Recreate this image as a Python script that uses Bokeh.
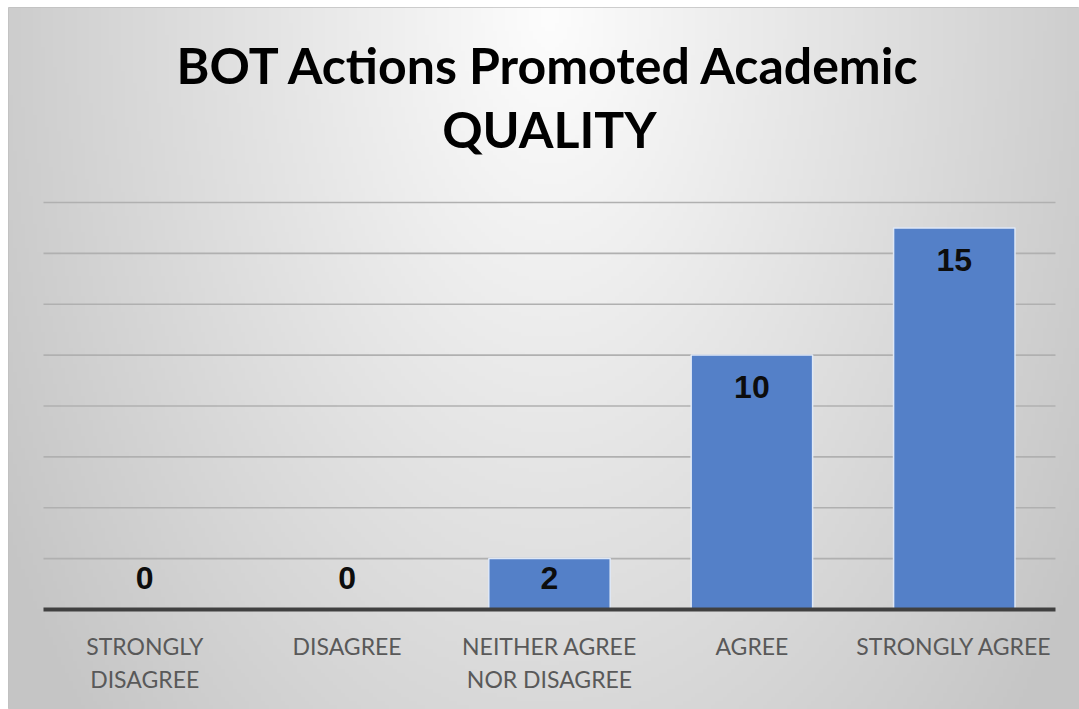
import numpy as np
from bokeh.plotting import figure
from bokeh.models import Range1d, ColumnDataSource, Label
from bokeh.core.properties import value
from bokeh.embed import file_html
from bokeh.resources import INLINE

# ---- data ----
categories = ["STRONGLY\nDISAGREE", "DISAGREE", "NEITHER AGREE\nNOR DISAGREE", "AGREE", "STRONGLY AGREE"]
counts = [0, 0, 2, 10, 15]
grid_ticks = [2, 4, 6, 8, 10, 12, 14, 16]
title_lines = ["BOT Actions Promoted Academic", "QUALITY"]

W, H = 1079, 709
FW, FH = 1071, 702
idx = list(range(len(categories)))

x0, x1 = -0.6729, 4.6186
y0, y1 = -3.931, 23.665

p = figure(width=W, height=H, output_backend="svg", toolbar_location=None,
           x_range=Range1d(x0, x1), y_range=Range1d(y0, y1),
           min_border_left=8, min_border_top=7, min_border_right=0,
           min_border_bottom=0)
p.axis.visible = False
p.grid.visible = False
p.outline_line_color = "#c0c0c0"
p.background_fill_color = "#e6e6e6"
p.border_fill_color = "#ffffff"

# background radial gradient (styling)
ny, nx = 175, 268
yy, xx = np.mgrid[0:ny, 0:nx]
px = (xx + 0.5) / nx * FW
py = (1 - (yy + 0.5) / ny) * FH  # row 0 = bottom
r = np.sqrt(((px - 541) / 530.0) ** 2 + ((py - 5) / 900.0) ** 2)
v = np.clip(253 - 47 * r, 197, 253).astype(np.uint32)
img = (255 << 24) | (v << 16) | (v << 8) | v
p.image_rgba(image=[img.astype(np.uint32)], x=x0, y=y0, dw=x1 - x0, dh=y1 - y0)

# gridlines
gsrc = ColumnDataSource(dict(y=grid_ticks))
p.segment(x0=-0.5, x1=len(categories) - 0.5, y0="y", y1="y", source=gsrc,
          line_color="#b0b0b0", line_width=1.6)

# bars
src = ColumnDataSource(dict(
    x=idx, top=counts, cat=categories,
    ly=[max(c - 1.25, 1.25) for c in counts],
    lab=[str(c) for c in counts],
))
p.vbar(x="x", top="top", bottom=0, width=0.6, source=src,
       fill_color="#5480C8", line_color="#dfe8f6", line_width=1.5)

# baseline
p.segment(x0=-0.5, x1=len(categories) - 0.5, y0=0, y1=0,
          line_color="#404040", line_width=4)

# value labels
p.text(x="x", y="ly", text="lab", source=src, text_align="center",
       text_baseline="middle", text_font=value("Liberation Sans"),
       text_font_style="bold", text_font_size="32px", text_color="#0d0d0d")

# category labels
p.text(x="x", y=0, text="cat", source=src, text_align="center",
       text_baseline="top", y_offset=22, text_font=value("Lato"),
       text_font_size="23px", text_color="#595959", text_line_height=1.2)

# title
for line, ty in zip(title_lines, [21.41, 18.88]):
    p.add_layout(Label(x=2, y=ty, text=line, text_align="center",
                       text_baseline="middle", text_font="Lato", text_font_style="bold",
                       text_font_size="50px", text_color="#000000"))

open("out.html", "w").write(file_html(p, INLINE))
